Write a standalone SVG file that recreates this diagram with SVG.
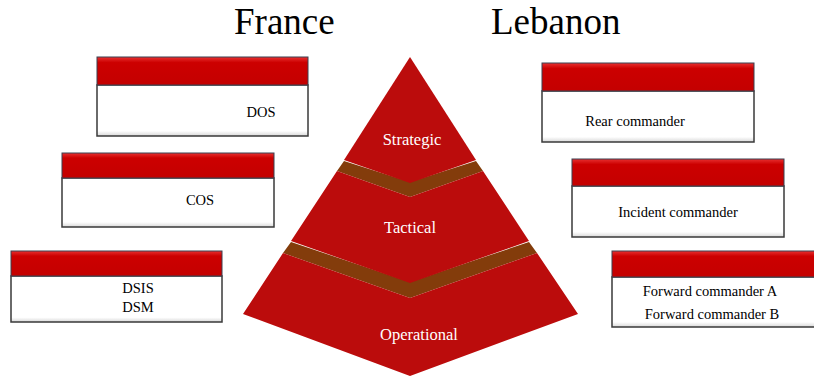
<svg xmlns="http://www.w3.org/2000/svg" width="814" height="376" viewBox="0 0 814 376">
<style>
text{font-family:"Liberation Serif","Times New Roman",serif;}
.title{font-size:37px;fill:#000;}
.lbl{font-size:14.5px;fill:#000;text-anchor:middle;}
.pl{font-size:16.5px;fill:#fff;text-anchor:middle;}
.body{fill:url(#bodyG);stroke:#3a3a3a;stroke-width:1.5;}
.head{fill:url(#headG);stroke:#3a4050;stroke-width:1;}
.red{fill:#bb0c0c;}
.brown{fill:#833c0b;}
</style>
<defs>
<linearGradient id="headG" x1="0" y1="0" x2="0" y2="1">
<stop offset="0" stop-color="#e83030"/>
<stop offset="0.2" stop-color="#cc0000"/>
<stop offset="1" stop-color="#c40000"/>
</linearGradient>
<linearGradient id="bodyG" x1="0" y1="0" x2="0" y2="1">
<stop offset="0" stop-color="#ffffff"/>
<stop offset="0.9" stop-color="#ffffff"/>
<stop offset="1" stop-color="#d8d8d8"/>
</linearGradient>
</defs>
<text class="title" x="234" y="34">France</text>
<text class="title" x="491" y="34">Lebanon</text>
<g id="pyramid">
<polygon class="brown" points="283,253 291,242 410,282 529,242 537,253 410,298"/>
<polygon class="red" points="283,253 410,298 537,253 578,314 410,376 243,314"/>
<polygon class="brown" points="337,171 344,161 410,182 476,161 483,171 410,197"/>
<polygon class="red" points="337,171 410,197 483,171 529,241 410,283 291,241"/>
<polygon class="red" points="410,57 476,160 410,183 344,160"/>
<text class="pl" x="412" y="145">Strategic</text>
<text class="pl" x="410" y="233">Tactical</text>
<text class="pl" x="419" y="340">Operational</text>
</g>
<g id="dos">
<rect class="body" x="97" y="85" width="211" height="51"/>
<rect class="head" x="97" y="57" width="211" height="28"/>
<text class="lbl" x="261" y="117">DOS</text>
</g>
<g id="cos">
<rect class="body" x="62" y="178" width="212" height="49"/>
<rect class="head" x="62" y="153" width="212" height="25"/>
<text class="lbl" x="200" y="205">COS</text>
</g>
<g id="dsis">
<rect class="body" x="11" y="276" width="211" height="46"/>
<rect class="head" x="11" y="251" width="211" height="25"/>
<text class="lbl" x="138" y="293">DSIS</text>
<text class="lbl" x="138" y="312">DSM</text>
</g>
<g id="rear">
<rect class="body" x="542" y="91" width="212" height="51"/>
<rect class="head" x="542" y="63" width="212" height="28"/>
<text class="lbl" x="635" y="126">Rear commander</text>
</g>
<g id="incident">
<rect class="body" x="572" y="186" width="212" height="51"/>
<rect class="head" x="572" y="159" width="212" height="27"/>
<text class="lbl" x="678" y="217">Incident commander</text>
</g>
<g id="forward">
<rect class="body" x="612" y="277" width="212" height="50"/>
<rect class="head" x="612" y="251" width="212" height="26"/>
<text class="lbl" x="710" y="296">Forward commander A</text>
<text class="lbl" x="712" y="319">Forward commander B</text>
</g>
<g id="connectors"/>
</svg>
